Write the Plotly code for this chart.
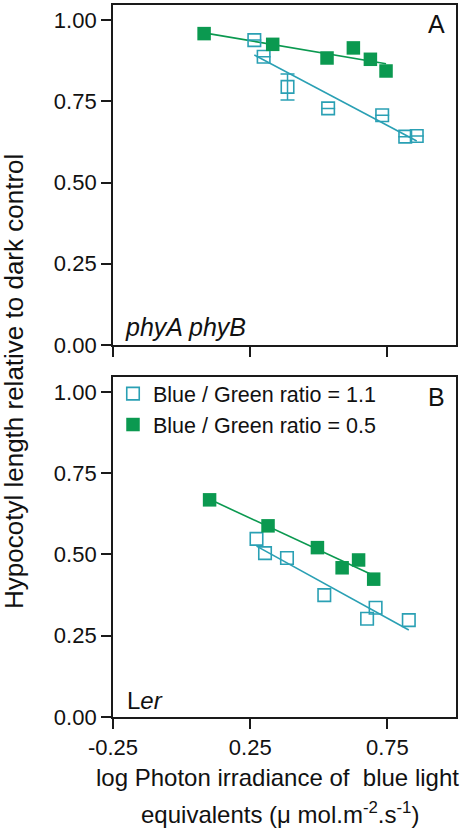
import numpy as np
import plotly.graph_objects as go

nan = float("nan")

# ---- data ----
# Panel A: phyA phyB
a_blue_x = [0.265, 0.299, 0.386, 0.534, 0.731, 0.815, 0.857]
a_blue_y = [0.938, 0.887, 0.794, 0.728, 0.707, 0.641, 0.643]
a_blue_err = [nan, nan, 0.04, nan, nan, nan, nan]
a_green_x = [0.082, 0.332, 0.530, 0.626, 0.688, 0.745]
a_green_y = [0.958, 0.925, 0.883, 0.914, 0.879, 0.843]

# Panel B: Ler
b_blue_x = [0.273, 0.304, 0.384, 0.520, 0.676, 0.707, 0.828]
b_blue_y = [0.548, 0.504, 0.489, 0.375, 0.302, 0.336, 0.298]
b_green_x = [0.102, 0.315, 0.495, 0.585, 0.645, 0.700]
b_green_y = [0.668, 0.588, 0.521, 0.459, 0.483, 0.424]

series_names = ["Blue / Green ratio = 1.1", "Blue / Green ratio = 0.5"]
x_tick_vals = [-0.25, 0.25, 0.75]
x_tick_text = ["-0.25", "0.25", "0.75"]
y_tick_vals = [0.0, 0.25, 0.5, 0.75, 1.0]
y_tick_text = ["0.00", "0.25", "0.50", "0.75", "1.00"]

# ---- styling ----
FONT = "Liberation Sans, Arial, sans-serif"
CYAN = "#2aa0b4"
GREEN = "#0b9950"
AXC = "#1a1a1a"


def fit_line(x, y):
    coef = np.polyfit(x, y, 1)
    xs = np.array([min(x), max(x)])
    return xs, np.polyval(coef, xs)


fig = go.Figure()

panels = [
    ("x", "y", a_blue_x, a_blue_y, a_blue_err, a_green_x, a_green_y, False),
    ("x2", "y2", b_blue_x, b_blue_y, None, b_green_x, b_green_y, True),
]

for xa, ya, bx, by, berr, gx, gy, leg in panels:
    lx, ly = fit_line(bx, by)
    fig.add_trace(go.Scatter(x=lx, y=ly, mode="lines", xaxis=xa, yaxis=ya,
                             line=dict(color=CYAN, width=1.6), showlegend=False,
                             hoverinfo="skip"))
    lx, ly = fit_line(gx, gy)
    fig.add_trace(go.Scatter(x=lx, y=ly, mode="lines", xaxis=xa, yaxis=ya,
                             line=dict(color=GREEN, width=1.6), showlegend=False,
                             hoverinfo="skip"))
    err = None
    if berr is not None:
        err = dict(type="data", array=berr, visible=True, color=CYAN,
                   thickness=1.5, width=7)
    fig.add_trace(go.Scatter(x=bx, y=by, mode="markers", xaxis=xa, yaxis=ya,
                             name=series_names[0], showlegend=leg,
                             error_y=err,
                             marker=dict(symbol="square-open", size=12.5,
                                         color=CYAN, line=dict(width=1.6, color=CYAN))))
    fig.add_trace(go.Scatter(x=gx, y=gy, mode="markers", xaxis=xa, yaxis=ya,
                             name=series_names[1], showlegend=leg,
                             marker=dict(symbol="square", size=13.5, color=GREEN,
                                         line=dict(width=0))))

common_x = dict(range=[-0.25, 1.0], tickvals=x_tick_vals, ticktext=x_tick_text,
                ticks="outside", ticklen=10, tickwidth=1.6, tickcolor=AXC,
                showline=True, linecolor=AXC, linewidth=1.8, mirror=True,
                showgrid=False, zeroline=False,
                tickfont=dict(family=FONT, size=22, color="#111"))
common_y = dict(range=[0, 1.046], tickvals=y_tick_vals, ticktext=y_tick_text,
                ticks="outside", ticklen=10, tickwidth=1.6, tickcolor=AXC,
                showline=True, linecolor=AXC, linewidth=1.8, mirror=True,
                showgrid=False, zeroline=False,
                tickfont=dict(family=FONT, size=22, color="#111"))

fig.update_layout(
    width=465, height=831,
    margin=dict(l=113, r=9, t=3, b=114),
    paper_bgcolor="white", plot_bgcolor="white",
    font=dict(family=FONT, color="#111"),
    xaxis=dict(common_x, domain=[0, 1], anchor="y", showticklabels=False),
    yaxis=dict(common_y, domain=[0.5224, 1.0], anchor="x"),
    xaxis2=dict(common_x, domain=[0, 1], anchor="y2"),
    yaxis2=dict(common_y, domain=[0.0, 0.4776], anchor="x2"),
    legend=dict(x=0.0, y=0.483, xanchor="left", yanchor="top",
                bgcolor="rgba(0,0,0,0)", font=dict(family=FONT, size=21.5, color="#111"),
                tracegroupgap=0),
    showlegend=True,
)

ann = [
    dict(text="A", x=0.9417, y=0.9727, font=dict(size=25)),
    dict(text="B", x=0.9417, y=0.4496, font=dict(size=25)),
    dict(text="<i>phyA phyB</i>", x=0.029, y=0.5476, xanchor="left", font=dict(size=25)),
    dict(text="L<i>er</i>", x=0.035, y=0.0232, xanchor="left", font=dict(size=24)),
    dict(text="log Photon irradiance of  blue light", x=0.48, y=-0.0854,
         font=dict(size=24)),
    dict(text="equivalents (\u03bc mol.m<sup>-2</sup>.s<sup>-1</sup>)", x=0.487, y=-0.1345,
         font=dict(size=24)),
    dict(text="Hypocotyl length relative to dark control", x=-0.2886, y=0.4706,
         textangle=-90, font=dict(size=26)),
]
for a in ann:
    a.setdefault("xanchor", "center")
    a["font"] = dict(family=FONT, color="#111", **a["font"])
    fig.add_annotation(xref="paper", yref="paper", yanchor="middle", showarrow=False, **a)

fig.write_html("out.html", config={"displayModeBar": False},
               post_script="document.body.style.margin='0';document.body.style.overflow='hidden';")
